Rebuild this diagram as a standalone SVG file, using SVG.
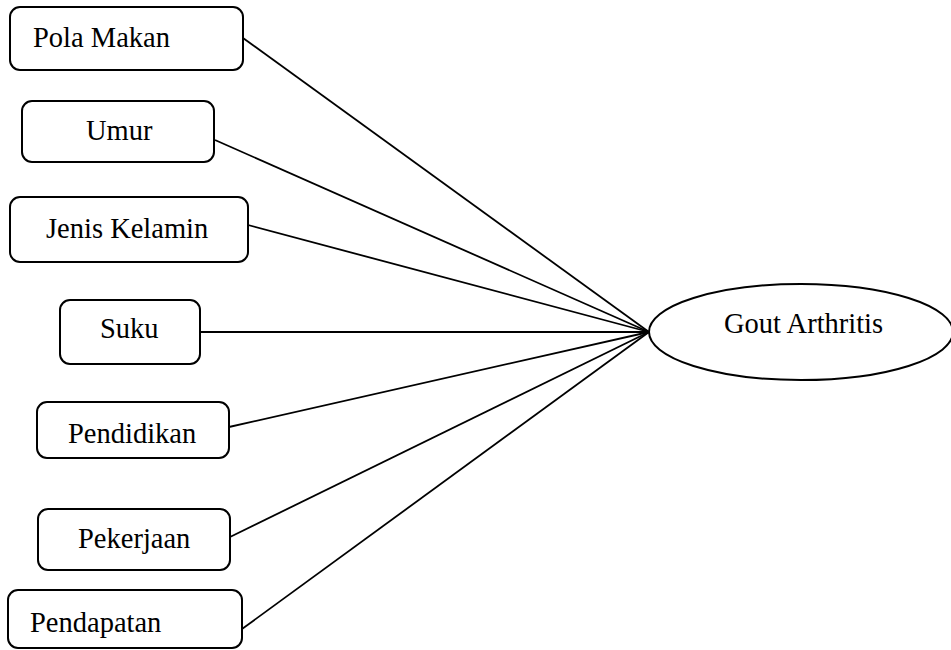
<svg xmlns="http://www.w3.org/2000/svg" width="951" height="650" viewBox="0 0 951 650">
<style>
.box{fill:#fff;stroke:#000;stroke-width:2}
.lbl{font-family:"Liberation Serif","Times New Roman",serif;font-size:28.5px;fill:#000}
.conn{stroke:#000;stroke-width:1.8;fill:none}
</style>
<rect width="951" height="650" fill="#fff"/>
<g id="connectors">
<line class="conn" x1="243" y1="38" x2="649" y2="332"/>
<line class="conn" x1="215" y1="140" x2="649" y2="332"/>
<line class="conn" x1="248" y1="225" x2="649" y2="332"/>
<line class="conn" x1="200" y1="332" x2="649" y2="332"/>
<line class="conn" x1="229" y1="427" x2="649" y2="332"/>
<line class="conn" x1="230" y1="537" x2="649" y2="332"/>
<line class="conn" x1="242" y1="629" x2="649" y2="332"/>
</g>
<g id="pola-makan">
<rect class="box" x="10" y="7" width="233" height="63" rx="10"/>
<text class="lbl" x="33" y="46.5">Pola Makan</text>
</g>
<g id="umur">
<rect class="box" x="22" y="101" width="192" height="61" rx="10"/>
<text class="lbl" x="86" y="140">Umur</text>
</g>
<g id="jenis-kelamin">
<rect class="box" x="10" y="197" width="238" height="65" rx="10"/>
<text class="lbl" x="46" y="238">Jenis Kelamin</text>
</g>
<g id="suku">
<rect class="box" x="60" y="300" width="140" height="64" rx="10"/>
<text class="lbl" x="100" y="338">Suku</text>
</g>
<g id="pendidikan">
<rect class="box" x="37" y="402" width="192" height="56" rx="10"/>
<text class="lbl" x="68" y="443">Pendidikan</text>
</g>
<g id="pekerjaan">
<rect class="box" x="38" y="509" width="192" height="61" rx="10"/>
<text class="lbl" x="78" y="548">Pekerjaan</text>
</g>
<g id="pendapatan">
<rect class="box" x="8" y="590" width="234" height="58" rx="10"/>
<text class="lbl" x="30" y="632">Pendapatan</text>
</g>
<g id="gout-arthritis">
<ellipse class="box" cx="801" cy="332" rx="152" ry="48"/>
<text class="lbl" x="724" y="333">Gout Arthritis</text>
</g>
</svg>
